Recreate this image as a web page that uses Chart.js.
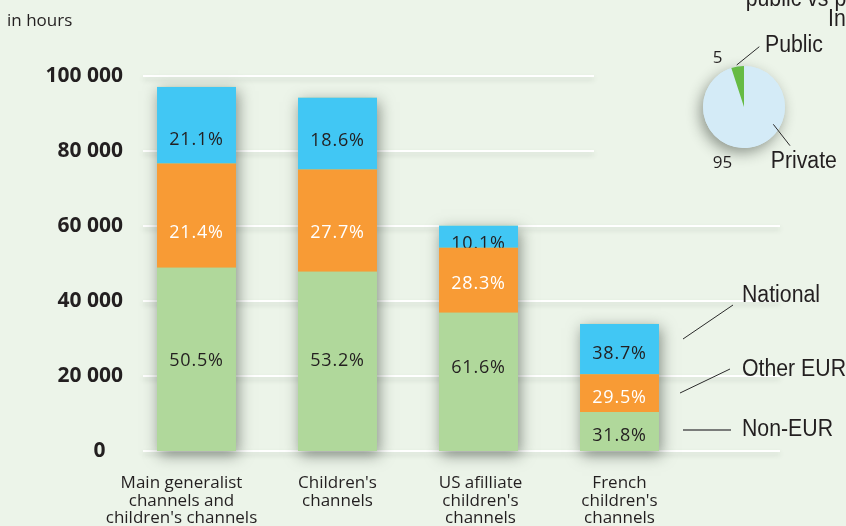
<!DOCTYPE html>
<html><head><meta charset="utf-8">
<script src="https://cdn.jsdelivr.net/npm/chart.js@4"></script>
<style>
html,body{margin:0;padding:0;background:#ECF4E9;}
#wrap{position:relative;width:846px;height:526px;overflow:hidden;background:#ECF4E9;}
#main{position:absolute;left:0;top:0;}
#pie{position:absolute;left:600px;top:0;}
</style></head><body>
<div id="wrap"><canvas id="main" width="846" height="526"></canvas><canvas id="pie" width="246" height="200"></canvas></div>
<script>
// ---- data ----
const categories = [
  ["Main generalist", "channels and", "children's channels"],
  ["Children's", "channels"],
  ["US afilliate", "children's", "channels"],
  ["French", "children's", "channels"]
];
const nonEur   = [48900, 47800, 36900, 10400];
const otherEur = [27800, 27300, 17300, 10100];
const national = [20400, 19100, 5900, 13400];
const nonEurPct   = ['50.5%', '53.2%', '61.6%', '31.8%'];
const otherEurPct = ['21.4%', '27.7%', '28.3%', '29.5%'];
const nationalPct = ['21.1%', '18.6%', '10.1%', '38.7%'];
const seriesNames = ['Non-EUR', 'Other EUR', 'National'];
const yTicks = [0, 20000, 40000, 60000, 80000, 100000];
const yTickLabels = ['0', '20 000', '40 000', '60 000', '80 000', '100 000'];
const pieLabels = ['Private', 'Public'];
const pieValues = [95, 5];
const unitLabel = 'in hours';
const pieTitle = ['public vs private', 'In'];

// ---- styles / layout ----
const BG = '#ECF4E9';
const DARK = '#231F20';
const colors = ['#B0D89B', '#F89B35', '#41C7F4'];
const labelColors = [DARK, '#FFFFFF', DARK];
const pctLabels = [nonEurPct, otherEurPct, nationalPct];
const labelNudge = [[0, -2, -15, 3], [16, 11, 2, 4], [13, 6, 6, 4]];
const xLabelShift = [-15, 0, 2, 0];
const gridEnd = {0: 780, 20000: 780, 40000: 780, 60000: 780, 80000: 594, 100000: 594};
const SANS = '"Open Sans", sans-serif';
const HELV = '"Liberation Sans", Arial, sans-serif';

function condText(ctx, str, x, y, size, sx) {
  ctx.save();
  ctx.font = size + 'px ' + HELV;
  ctx.fillStyle = DARK;
  ctx.textBaseline = 'alphabetic';
  ctx.textAlign = 'left';
  ctx.translate(x, y);
  ctx.scale(sx, 1);
  ctx.fillText(str, 0, 0);
  ctx.restore();
}
function line(ctx, x1, y1, x2, y2, c, w) {
  ctx.save();
  ctx.strokeStyle = c; ctx.lineWidth = w;
  ctx.beginPath(); ctx.moveTo(x1, y1); ctx.lineTo(x2, y2); ctx.stroke();
  ctx.restore();
}

const mainPlugin = {
  id: 'mainDeco',
  beforeDraw(chart) {
    const ctx = chart.ctx;
    ctx.save(); ctx.fillStyle = BG; ctx.fillRect(0, 0, chart.width, chart.height); ctx.restore();
  },
  beforeDatasetsDraw(chart) {
    const ctx = chart.ctx, ys = chart.scales.y;
    yTicks.forEach(v => {
      const y = Math.round(ys.getPixelForValue(v));
      ctx.save();
      ctx.shadowColor = 'rgba(60,80,60,0.18)'; ctx.shadowBlur = 5; ctx.shadowOffsetY = 3;
      ctx.strokeStyle = '#FFFFFF'; ctx.lineWidth = 2;
      ctx.beginPath(); ctx.moveTo(143, y); ctx.lineTo(gridEnd[v], y); ctx.stroke();
      ctx.restore();
    });
    const m0 = chart.getDatasetMeta(0), m2 = chart.getDatasetMeta(2);
    for (let i = 0; i < categories.length; i++) {
      const b = m0.data[i], t = m2.data[i];
      ctx.save();
      ctx.shadowColor = 'rgba(30,40,30,0.5)'; ctx.shadowBlur = 14; ctx.shadowOffsetX = 2; ctx.shadowOffsetY = 4;
      ctx.fillStyle = colors[0];
      ctx.fillRect(b.x - b.width / 2, t.y, b.width, b.base - t.y);
      ctx.restore();
    }
  },
  afterDatasetDraw(chart, args) {
    const ctx = chart.ctx, di = args.index;
    ctx.save();
    ctx.font = '18px ' + SANS;
    ctx.letterSpacing = '0.8px';
    ctx.textAlign = 'center'; ctx.textBaseline = 'alphabetic';
    ctx.fillStyle = labelColors[di];
    args.meta.data.forEach((el, i) => {
      const cy = (el.y + el.base) / 2 + labelNudge[di][i];
      ctx.fillText(pctLabels[di][i], el.x, cy + 6.4);
    });
    ctx.restore();
  },
  afterDraw(chart) {
    const ctx = chart.ctx, xs = chart.scales.x;
    ctx.save();
    ctx.font = '17px ' + SANS; ctx.fillStyle = DARK; ctx.textAlign = 'left'; ctx.textBaseline = 'alphabetic';
    ctx.fillText(unitLabel, 7, 26);
    // category labels
    ctx.textAlign = 'center';
    categories.forEach((lines, i) => {
      const x = xs.getPixelForTick(i) + xLabelShift[i];
      lines.forEach((s, k) => ctx.fillText(s, x, 488 + k * 17.6));
    });
    ctx.restore();
    condText(ctx, seriesNames[2], 742, 302, 23, 0.925);
    condText(ctx, seriesNames[1], 742, 376, 23, 0.925);
    condText(ctx, seriesNames[0], 742, 436, 23, 0.925);
    line(ctx, 683, 339, 733, 305, '#2a2a2a', 1);
    line(ctx, 680, 393, 730, 369, '#2a2a2a', 1);
    line(ctx, 683, 430, 731, 430, '#555555', 1.5);
  }
};

new Chart(document.getElementById('main'), {
  type: 'bar',
  data: {
    labels: categories,
    datasets: [
      {label: seriesNames[0], data: nonEur, backgroundColor: colors[0]},
      {label: seriesNames[1], data: otherEur, backgroundColor: colors[1]},
      {label: seriesNames[2], data: national, backgroundColor: colors[2]}
    ]
  },
  options: {
    responsive: false, animation: false, devicePixelRatio: 1,
    layout: {autoPadding: false, padding: {left: 0, right: 156, top: 76, bottom: 0}},
    datasets: {bar: {categoryPercentage: 1, barPercentage: 0.56, borderWidth: 0}},
    plugins: {legend: {display: false}, tooltip: {enabled: false}},
    scales: {
      x: {
        stacked: true,
        grid: {display: false, drawTicks: false}, border: {display: false},
        ticks: {display: false},
        afterFit(s) { s.height = 75; }
      },
      y: {
        stacked: true, min: 0, max: 100000,
        grid: {display: false, drawTicks: false}, border: {display: false},
        afterBuildTicks(s) { s.ticks = yTicks.map(v => ({value: v})); },
        ticks: {
          color: DARK, padding: 3, font: {family: SANS, size: 21, weight: 'bold'},
          callback(v) { const i = yTicks.indexOf(v); return v === 0 ? yTickLabels[i] + '\u2007 ' : yTickLabels[i]; }
        },
        afterFit(s) { s.width = 126; }
      }
    }
  },
  plugins: [mainPlugin]
});

// ---- pie ----
const OX = 600, OY = 0;
const piePlugin = {
  id: 'pieDeco',
  beforeDatasetsDraw(chart) {
    const ctx = chart.ctx, a = chart.getDatasetMeta(0).data[0];
    ctx.save();
    ctx.shadowColor = 'rgba(30,40,30,0.45)'; ctx.shadowBlur = 14; ctx.shadowOffsetX = -3; ctx.shadowOffsetY = 5;
    ctx.fillStyle = '#D4EBF7';
    ctx.beginPath(); ctx.arc(a.x, a.y, a.outerRadius, 0, Math.PI * 2); ctx.fill();
    ctx.restore();
  },
  afterDraw(chart) {
    const ctx = chart.ctx;
    condText(ctx, pieTitle[0], 745.7 - OX, 6 - OY, 23, 0.925);
    condText(ctx, pieTitle[1], 828 - OX, 26 - OY, 23, 0.925);
    condText(ctx, pieLabels[1], 765 - OX, 52 - OY, 23, 0.925);
    condText(ctx, pieLabels[0], 770.7 - OX, 168 - OY, 23, 0.925);
    ctx.save();
    ctx.font = '17px ' + SANS; ctx.fillStyle = DARK; ctx.textAlign = 'left';
    ctx.fillText(String(pieValues[1]), 712.7 - OX, 62.7 - OY);
    ctx.fillText(String(pieValues[0]), 712.7 - OX, 168.3 - OY);
    ctx.restore();
    line(ctx, 736.7 - OX, 65 - OY, 759.3 - OX, 46.7 - OY, '#2a2a2a', 1);
    line(ctx, 773.3 - OX, 124.3 - OY, 790 - OX, 145.7 - OY, '#2a2a2a', 1);
  }
};
new Chart(document.getElementById('pie'), {
  type: 'pie',
  data: {labels: pieLabels, datasets: [{data: pieValues, backgroundColor: ['#D4EBF7', '#66BB44'], borderWidth: 0}]},
  options: {
    responsive: false, animation: false, devicePixelRatio: 1,
    layout: {padding: {left: 103, right: 61, top: 66, bottom: 52}},
    plugins: {legend: {display: false}, tooltip: {enabled: false}}
  },
  plugins: [piePlugin]
});
</script>
</body></html>
